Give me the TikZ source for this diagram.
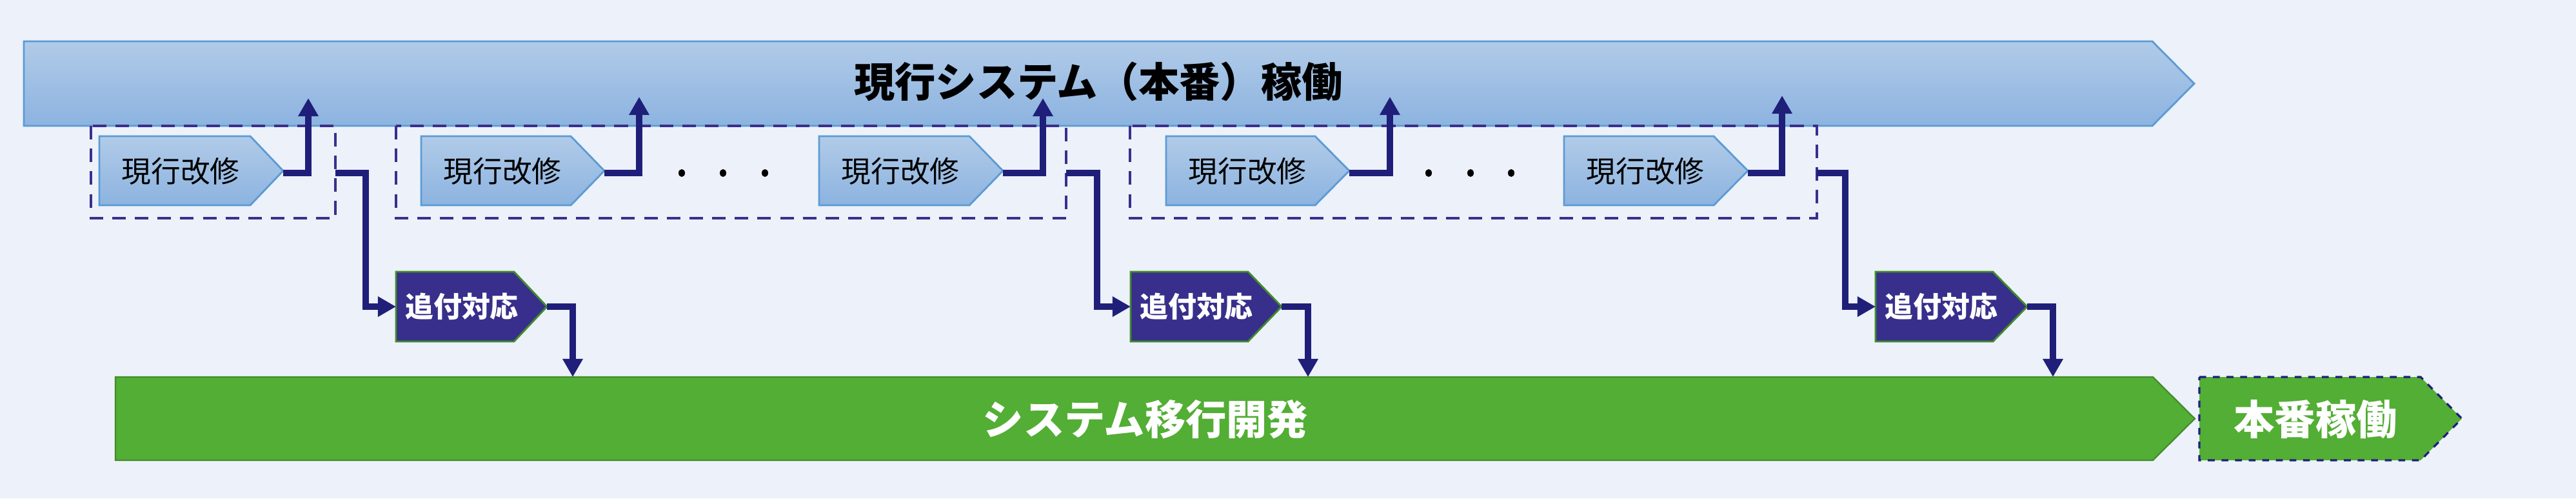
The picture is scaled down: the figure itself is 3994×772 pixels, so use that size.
\documentclass[tikz,border=0pt]{standalone}
\usepackage{fontspec}
\setmainfont{Noto Sans CJK JP}
\usetikzlibrary{arrows.meta}
\definecolor{bg}{HTML}{EDF1F9}
\definecolor{bluetop}{HTML}{B1CBE8}
\definecolor{bluebot}{HTML}{8CB3E0}
\definecolor{blueline}{HTML}{5B9BD5}
\definecolor{grn}{HTML}{52AE34}
\definecolor{navy}{HTML}{1F1F7A}
\definecolor{purp}{HTML}{372F8B}
\definecolor{dash}{HTML}{3A2F8C}
\newcommand\penta[6]{\path[#6] (#1,#2) -- (#3,#2) -- (#5,{(#2+#4)/2}) -- (#3,#4) -- (#1,#4) -- cycle;}
\tikzset{
  bluebox/.style={top color=bluetop,bottom color=bluebot,draw=blueline,line width=0.8pt},
  grnbox/.style={fill=grn,draw=grn!80!black,line width=0.6pt},
  purbox/.style={fill=purp,draw=grn!80!black,line width=0.8pt},
  grp/.style={draw=dash,dashed,line width=1.2pt,dash pattern=on 6pt off 4pt},
  conn/.style={draw=navy,line width=2.6pt,-{Triangle[length=8pt,width=8.5pt]}},
  small/.style={font=\fontsize{13}{13}\selectfont,text=black},
  chase/.style={font=\fontsize{12.5}{13}\selectfont\bfseries,text=white},
  big/.style={font=\fontsize{18}{18}\selectfont\bfseries},
}
\begin{document}
\begin{tikzpicture}[x=0.01cm,y=-0.01cm]
\fill[bg] (0,0) rectangle (3994,772);
\useasboundingbox (0,0) rectangle (3994,772);
% top bar
\penta{37}{64}{3337}{195}{3402}{bluebox}
\node[big,text=black] (top) at (1703,126) {現行システム（本番）稼働};
% bottom bar
\penta{179}{584}{3338}{713}{3403}{grnbox}
\node[big,text=white] (dev) at (1776,650) {システム移行開発};
\penta{3410}{584}{3753}{713}{3817}{fill=grn,draw=navy,dashed,line width=0.9pt}
\node[big,text=white] (prod) at (3590,650) {本番稼働};
% groups
\draw[grp] (141,195) rectangle (520,338);
\draw[grp] (614,195) rectangle (1653,338);
\draw[grp] (1752,195) rectangle (2817,338);
% small boxes
\penta{154}{211}{388}{318}{439}{bluebox}
\node[small] (k1) at (280,265) {現行改修};
\penta{653}{211}{885}{318}{937}{bluebox}
\node[small] (k2) at (779,265) {現行改修};
\penta{1270}{211}{1503}{318}{1555}{bluebox}
\node[small] (k3) at (1396,265) {現行改修};
\penta{1808}{211}{2039}{318}{2092}{bluebox}
\node[small] (k4) at (1934,265) {現行改修};
\penta{2425}{211}{2657}{318}{2710}{bluebox}
\node[small] (k5) at (2551,265) {現行改修};
% dots
\foreach \x in {1057,1121,1186,2215,2280,2343} \fill[black] (\x,268) ellipse (5 and 6);
% chase boxes
\penta{614}{421}{797}{529}{848}{purbox}
\node[chase] (c1) at (716,475) {追付対応};
\penta{1753}{421}{1935}{529}{1987}{purbox}
\node[chase] (c2) at (1855,475) {追付対応};
\penta{2908}{421}{3090}{529}{3143}{purbox}
\node[chase] (c3) at (3010,475) {追付対応};
% coordinates
\coordinate (t1) at (439,268); \coordinate (u1) at (478,152);
\coordinate (t2) at (937,268); \coordinate (u2) at (991,150);
\coordinate (t3) at (1555,268); \coordinate (u3) at (1617,152);
\coordinate (t4) at (2092,268); \coordinate (u4) at (2155,150);
\coordinate (t5) at (2710,268); \coordinate (u5) at (2763,148);
\coordinate (g1) at (520,268); \coordinate (l1) at (614,475);
\coordinate (g2) at (1653,268); \coordinate (l2) at (1753,475);
\coordinate (g3) at (2817,268); \coordinate (l3) at (2908,475);
\coordinate (r1) at (848,475); \coordinate (d1) at (888,584);
\coordinate (r2) at (1987,475); \coordinate (d2) at (2028,584);
\coordinate (r3) at (3143,475); \coordinate (d3) at (3183,584);
% connectors
\foreach \i in {1,...,5} \draw[conn] (t\i) -| (u\i);
\draw[conn] (g1) -- (567,268) |- (l1);
\draw[conn] (g2) -- (1701,268) |- (l2);
\draw[conn] (g3) -- (2861,268) |- (l3);
\foreach \i in {1,2,3} \draw[conn] (r\i) -| (d\i);
\end{tikzpicture}
\end{document}
